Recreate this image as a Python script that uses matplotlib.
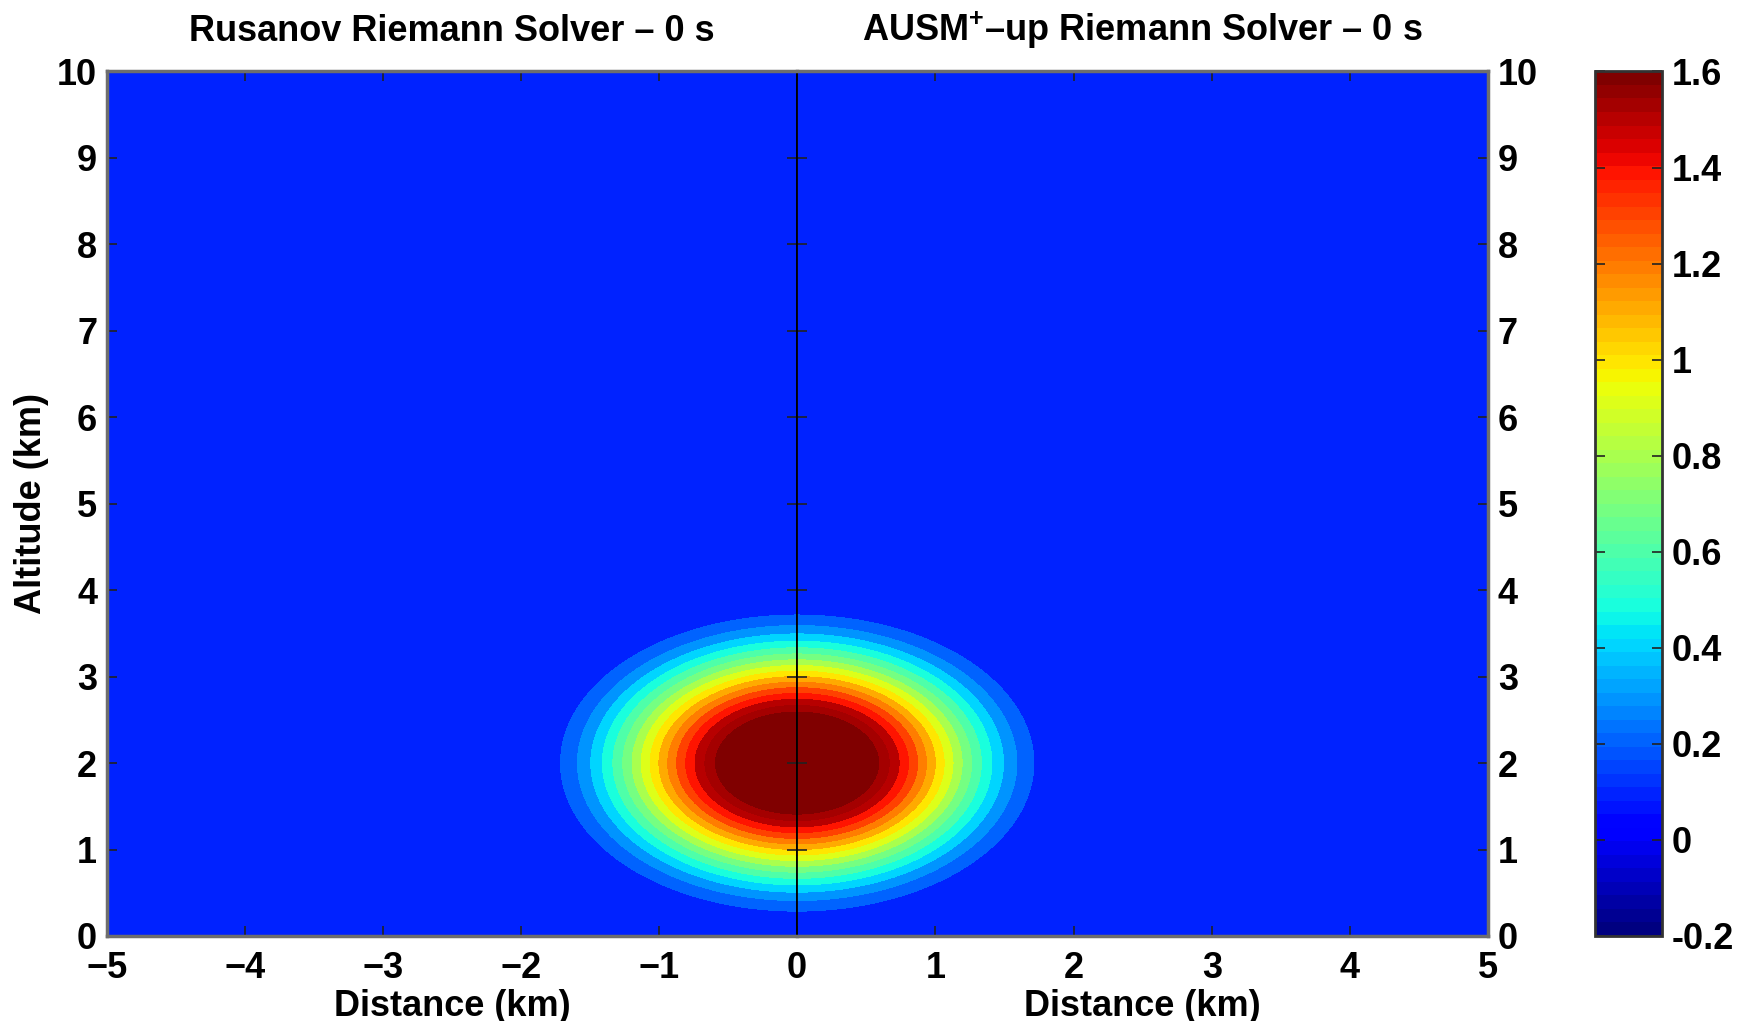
import numpy as np
import matplotlib
matplotlib.use('Agg')
import matplotlib.pyplot as plt
from matplotlib.colors import Normalize
from matplotlib.cm import ScalarMappable

# Initial thermal bubble (potential temperature perturbation, K) at t = 0 s
bubble_xc = 0.0        # km
bubble_zc = 2.0        # km
bubble_rc = 2.0        # km
bubble_theta_c = 2.0   # K, peak perturbation

# domain
x_range = [-5.0, 5.0]
z_range = [0.0, 10.0]

# contour levels and colour scale
theta_levels = [0.0, 0.1, 0.2, 0.3, 0.4, 0.5, 0.6, 0.7, 0.8,
                0.9, 1.0, 1.1, 1.2, 1.3, 1.4, 1.5, 1.6]
cbar_ticks = [-0.2, 0, 0.2, 0.4, 0.6, 0.8, 1.0, 1.2, 1.4, 1.6]
cbar_limits = [-0.2, 1.6]

left_xticks = [-5, -4, -3, -2, -1, 0]
right_xticks = [0, 1, 2, 3, 4, 5]
yticks = [0, 1, 2, 3, 4, 5, 6, 7, 8, 9, 10]

titles = ['Rusanov Riemann Solver \u2013 0 s',
          r'AUSM$^{\mathbf{+}}$' + '\u2013up Riemann Solver \u2013 0 s']

plt.rcParams['font.family'] = ['Liberation Sans', 'DejaVu Sans']
plt.rcParams['font.weight'] = 'bold'
plt.rcParams['mathtext.fontset'] = 'custom'
plt.rcParams['mathtext.rm'] = 'Liberation Sans:bold'
plt.rcParams['mathtext.bf'] = 'Liberation Sans:bold'

# grid + field
x = np.linspace(x_range[0], x_range[1], 801)
z = np.linspace(z_range[0], z_range[1], 801)
X, Z = np.meshgrid(x, z)
r = np.sqrt((X - bubble_xc) ** 2 + (Z - bubble_zc) ** 2) / bubble_rc
theta = np.where(r <= 1.0, 0.5 * bubble_theta_c * (1.0 + np.cos(np.pi * r)), 0.0)

cmap = plt.get_cmap('jet', 64)
norm = Normalize(vmin=cbar_limits[0], vmax=cbar_limits[1])

fill_levels = list(theta_levels) + [bubble_theta_c + 0.01]
band_colors = [cmap(norm(min(u, cbar_limits[1]))) for u in fill_levels[1:]]
# innermost band below the cap shown one shade lighter than the saturated core
band_colors[-2] = cmap(61)

fig = plt.figure(figsize=(17.53, 10.21), dpi=100)
ax_l = fig.add_axes([0.0610, 0.0833, 0.3936, 0.8467])
ax_r = fig.add_axes([0.4547, 0.0833, 0.3942, 0.8467])
cax = fig.add_axes([0.9099, 0.0833, 0.0382, 0.8467])

fs = 26
frame_color = '#6e6e6e'

for ax, xt, title in [(ax_l, left_xticks, titles[0]), (ax_r, right_xticks, titles[1])]:
    ax.contourf(X, Z, theta, levels=fill_levels, colors=band_colors)
    ax.set_xlim(xt[0], xt[-1])
    ax.set_ylim(z_range)
    ax.set_xticks(xt)
    ax.set_yticks(yticks)
    ax.set_title(title, fontsize=fs, fontweight='bold', pad=22)
    ax.set_xlabel('Distance (km)', fontsize=fs, fontweight='bold', labelpad=2)
    ax.tick_params(direction='in', length=7, width=1.2, top=True, right=True,
                   left=True, labelsize=fs, pad=7, color='#222222')
    ax.tick_params(axis='x', pad=11)
    for s in ax.spines.values():
        s.set_color(frame_color)
        s.set_linewidth(2.5)

ax_l.set_ylabel('Altitude (km)', fontsize=fs, fontweight='bold', labelpad=6)
ax_l.spines['right'].set_color('black')
ax_l.spines['right'].set_linewidth(1.3)
ax_r.spines['left'].set_color('black')
ax_r.spines['left'].set_linewidth(1.3)
ax_r.tick_params(labelleft=False, labelright=True)
ax_r.set_xticklabels([''] + [str(t) for t in right_xticks[1:]])

cb = fig.colorbar(ScalarMappable(norm=norm, cmap=cmap), cax=cax, ticks=cbar_ticks)
cb.ax.set_yticklabels(['%g' % t for t in cbar_ticks])
cb.ax.tick_params(direction='in', length=7, width=1.2, left=True, right=True,
                  labelsize=fs, pad=7, color='#222222')
cb.outline.set_edgecolor('#333333')
cb.outline.set_linewidth(2)

fig.savefig('out.png', dpi=100)
